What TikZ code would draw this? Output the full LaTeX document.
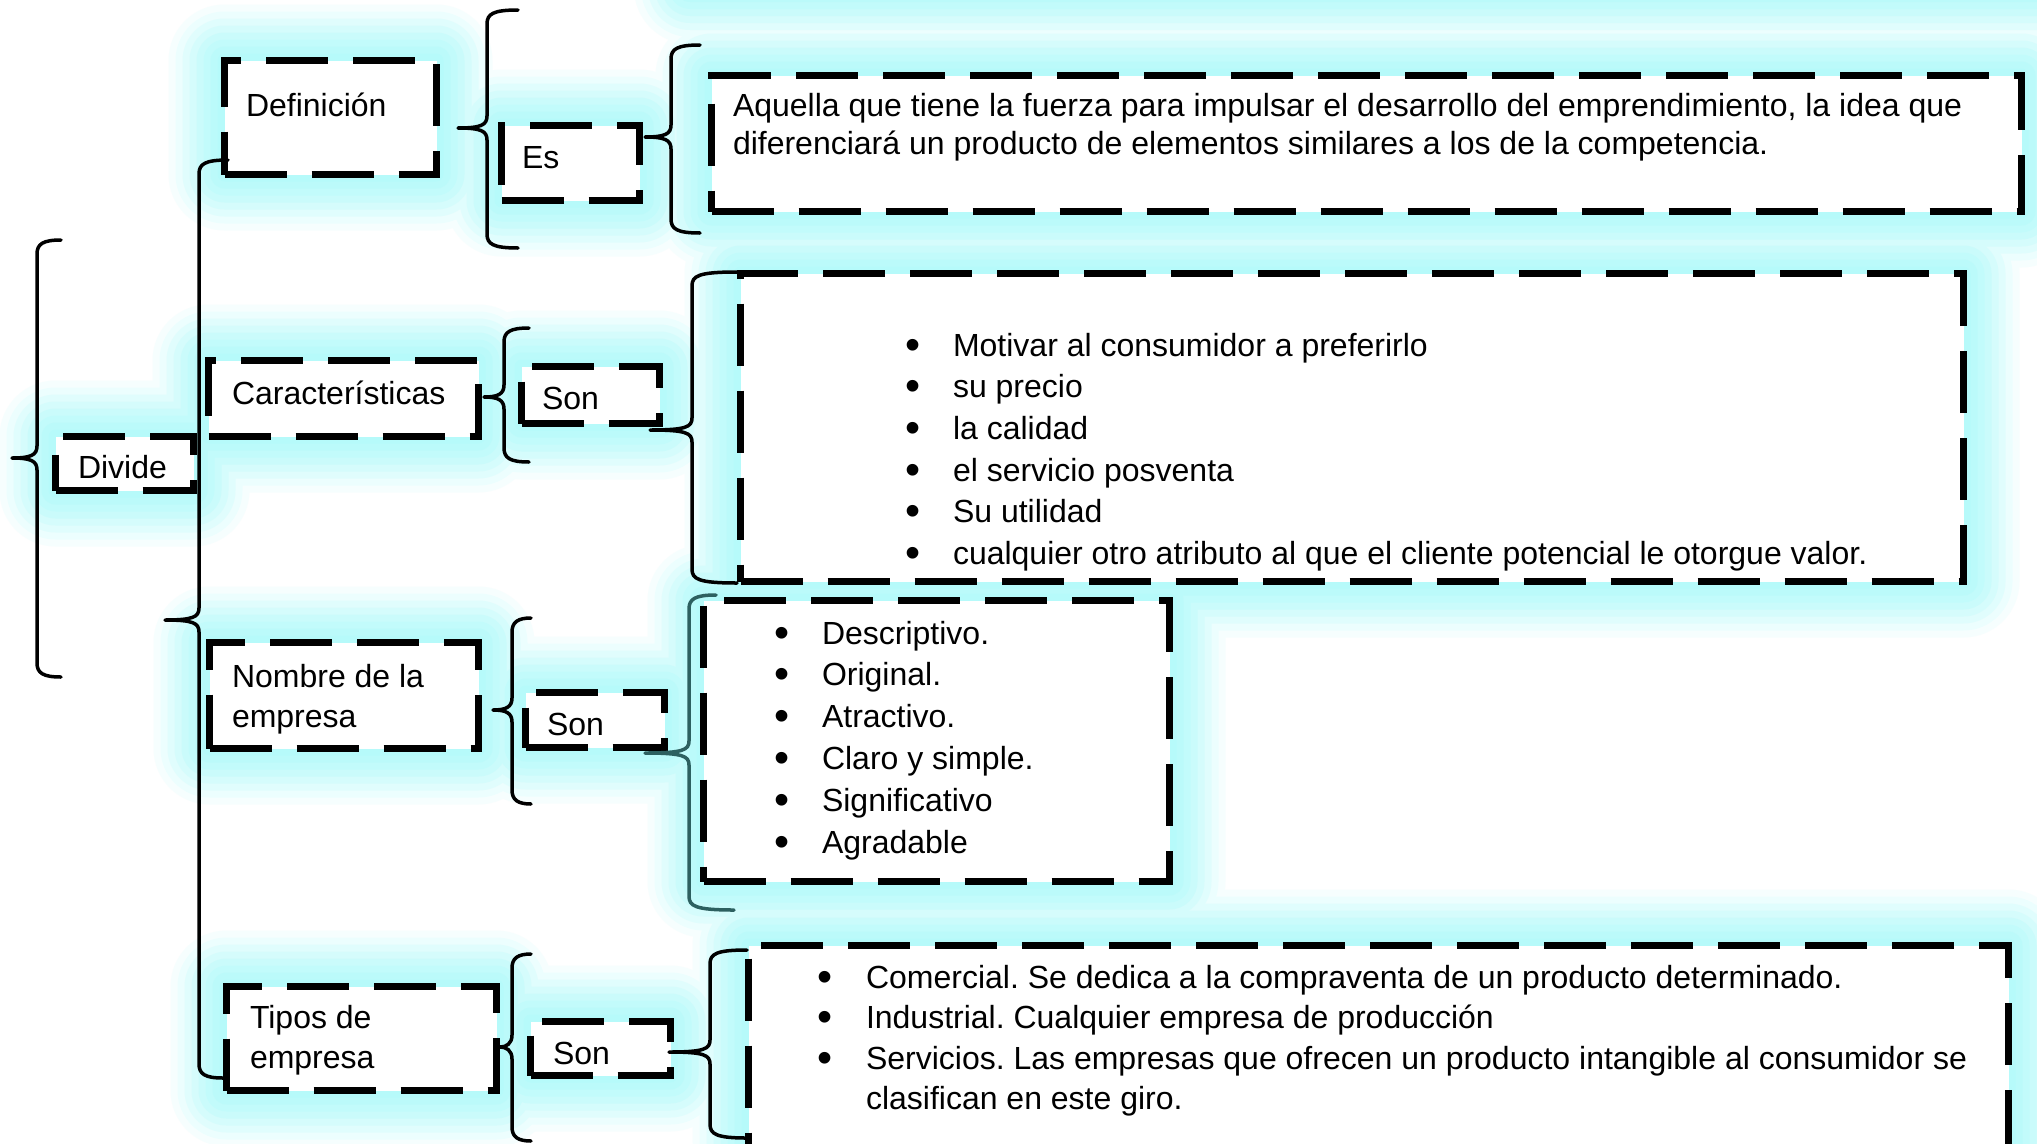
\documentclass[tikz,border=0pt]{standalone}
\usepackage{fontspec}
\setmainfont{Liberation Sans}
\usetikzlibrary{backgrounds}
\definecolor{glowc}{RGB}{182,250,250}
\definecolor{tealc}{RGB}{45,96,96}
\tikzset{
  dbox/.style={draw=black, line width=7pt, dash pattern=on 62pt off 25pt, fill=white, inner sep=0pt, outer sep=0pt},
  ghost/.style={inner sep=0pt, outer sep=0pt},
  txt/.style={anchor=base west, inner sep=0pt, outer sep=0pt, font=\fontsize{32}{38}\selectfont},
  bul/.style={anchor=base west, inner sep=0pt, outer sep=0pt, text height=18pt, text depth=0pt, font=\fontsize{43}{43}\selectfont},
  bracestyle/.style={draw=black, line width=3.5pt, line cap=round, line join=round},
}
\newcommand{\bx}[5]{\node[dbox, minimum width={#4-#2-7}, minimum height={#5-#3-7}] (#1) at ({(#2+#4)/2},{(#3+#5)/2}) {};}
\newcommand{\brc}[8][]{\draw[bracestyle,#1] (#7,#3) .. controls (#2+6,#3) and (#2,#3+4) .. (#2,#3+14) -- (#2,#6-12) .. controls (#2,#6-3) and (#2-6,#6) .. (#5,#6) .. controls (#2-6,#6) and (#2,#6+3) .. (#2,#6+12) -- (#2,#4-14) .. controls (#2,#4-4) and (#2+6,#4) .. (#8,#4);}
\frenchspacing
\begin{document}
\begin{tikzpicture}[x=1pt,y=-1pt]
\useasboundingbox (0,0) rectangle (2037,1143);
% boxes
\bx{divi}{52}{433}{197}{494}
\bx{def}{221}{57}{440}{178}
\bx{es}{498}{122}{643}{204}
\bx{aq}{708}{72}{2025}{215}
\bx{car}{205}{357}{482}{440}
\bx{sonA}{518}{363}{663}{427}
\bx{carl}{737}{270}{1967}{585}
\bx{nom}{206}{639}{482}{752}
\bx{sonB}{522}{689}{668}{751}
\bx{noml}{700}{597}{1173}{885}
\bx{tip}{223}{983}{500}{1094}
\bx{sonC}{527}{1018}{674}{1079}
\bx{tipl}{745}{942}{2012}{1200}
\node[ghost, minimum width=1460, minimum height=200] (topg) at (1420,-112) {};
% glow
\begin{scope}[on background layer]
\fill[white] (0,0) rectangle (2037,1143);
\foreach \k/\p in {56/12,49/26,42/42,35/58,28/72,21/84,14/93,7/100} {
  \foreach \n in {topg,divi,def,es,aq,car,sonA,carl,nom,sonB,noml,tip,sonC,tipl} {
    \fill[glowc!\p!white, rounded corners=\k pt] ([shift={(-\k,-\k)}]\n.north west) rectangle ([shift={(\k,\k)}]\n.south east);
  }
}
\end{scope}
% braces
\brc{37}{240}{677}{12}{458}{61}{61}
\brc{199}{160}{1078}{165}{620}{228}{223}
\brc{487}{10}{248}{458}{128}{518}{518}
\brc{671}{45}{233}{645}{137}{700}{700}
\brc{504}{328}{462}{484}{397}{529}{529}
\brc{692}{272}{583}{650}{430}{737}{737}
\brc{512}{618}{804}{493}{710}{531}{531}
\brc[draw=tealc]{689}{595}{910}{645}{753}{716}{734}
\brc{512}{954}{1141}{500}{1047}{531}{531}
\brc{710}{950}{1138}{669}{1052}{747}{747}
% texts
\node[txt] (tdivi) at (78,478) {Divide};
\node[txt] (tdef) at (246,116) {Definición};
\node[txt] (tes) at (522,168) {Es};
\node[txt] (taq1) at (733,116) {Aquella que tiene la fuerza para impulsar el desarrollo del emprendimiento, la idea que};
\node[txt] (taq2) at (733,154) {diferenciará un producto de elementos similares a los de la competencia.};
\node[txt] (tcar) at (232,404) {Características};
\node[txt] (tsonA) at (542,409) {Son};
\node[txt] (tnom1) at (232,687) {Nombre de la};
\node[txt] (tnom2) at (232,727) {empresa};
\node[txt] (tsonB) at (547,735) {Son};
\node[txt] (ttip1) at (250,1028) {Tipos de};
\node[txt] (ttip2) at (250,1068) {empresa};
\node[txt] (tsonC) at (553,1064) {Son};
\foreach \t [count=\i from 0] in {Motivar al consumidor a preferirlo, su precio, la calidad, el servicio posventa, Su utilidad, cualquier otro atributo al que el cliente potencial le otorgue valor.} {
  \node[bul] (cb\i) at (905,{359+41.7*\i}) {•};
  \node[txt] (ct\i) at (953,{356+41.7*\i}) {\t};
}
\foreach \t [count=\i from 0] in {Descriptivo., Original., Atractivo., Claro y simple., Significativo, Agradable} {
  \node[bul] (nb\i) at (774,{647+41.8*\i}) {•};
  \node[txt] (nt\i) at (822,{644+41.8*\i}) {\t};
}
\foreach \t [count=\i from 0] in {Comercial. Se dedica a la compraventa de un producto determinado., Industrial. Cualquier empresa de producción, Servicios. Las empresas que ofrecen un producto intangible al consumidor se} {
  \node[bul] (tb\i) at (817,{991+40.5*\i}) {•};
  \node[txt] (tt\i) at (866,{988+40.5*\i}) {\t};
}
\node[txt] (tt3) at (866,1109) {clasifican en este giro.};
\end{tikzpicture}
\end{document}
